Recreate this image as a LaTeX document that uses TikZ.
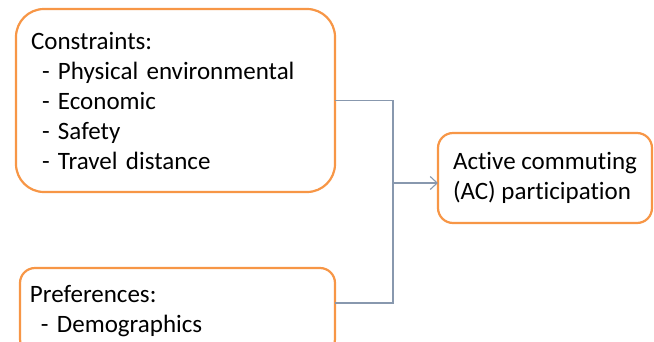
\documentclass[tikz,border=0pt]{standalone}
\usepackage{fontspec}
\setmainfont[Ligatures=NoCommon]{Carlito}
\usepackage{xcolor}
\usetikzlibrary{positioning, arrows.meta}
\definecolor{boxorange}{RGB}{247,150,70}
\definecolor{linkgray}{RGB}{136,152,174}

\begin{document}
\begin{tikzpicture}[
		x=1pt, y=1pt,
		caja/.style={
			rectangle,
			rounded corners=15pt,
			draw=boxorange,
			line width=2.2pt,
			fill=white,
			outer sep=0pt,
			inner sep=0pt,
			align=left,
			font=\fontsize{25pt}{30pt}\selectfont
		},
		enlace/.style={
			line width=1.1pt,
			linkgray
		},
		flecha/.style={
			-{Straight Barb[length=7pt, width=13pt]},
			line width=1.1pt,
			linkgray
		}
		]
		\useasboundingbox (0,0) rectangle (654,-341);
		% Nodes
		\node[caja, rounded corners=28pt, minimum width=319pt, minimum height=183pt,
		text width=289pt] (cons) at (175.5,-100.5)
		{Constraints:\\
			\hspace*{11pt}- Physical environmental\\
			\hspace*{11pt}- Economic\\
			\hspace*{11pt}- Safety\\
			\hspace*{11pt}- Travel distance};
		\node[caja, minimum width=315pt, minimum height=86pt, text width=295pt,
		below=76pt of cons.south east, anchor=north east]
		(pref)
		{Preferences:\\
			\hspace*{11pt}- Demographics};
		\node[caja, minimum width=214pt, minimum height=90pt,
		right=103pt of cons, yshift=-77.5pt]
		(ac)
		{Active commuting\\(AC) participation};
		\coordinate (mid) at (393,-183);
		% Arrows
		\draw[enlace] (cons.east) -| (mid) |- ([yshift=8pt]pref.east);
		\draw[flecha] (mid) -- (mid -| ac.west);
	\end{tikzpicture}
\end{document}
